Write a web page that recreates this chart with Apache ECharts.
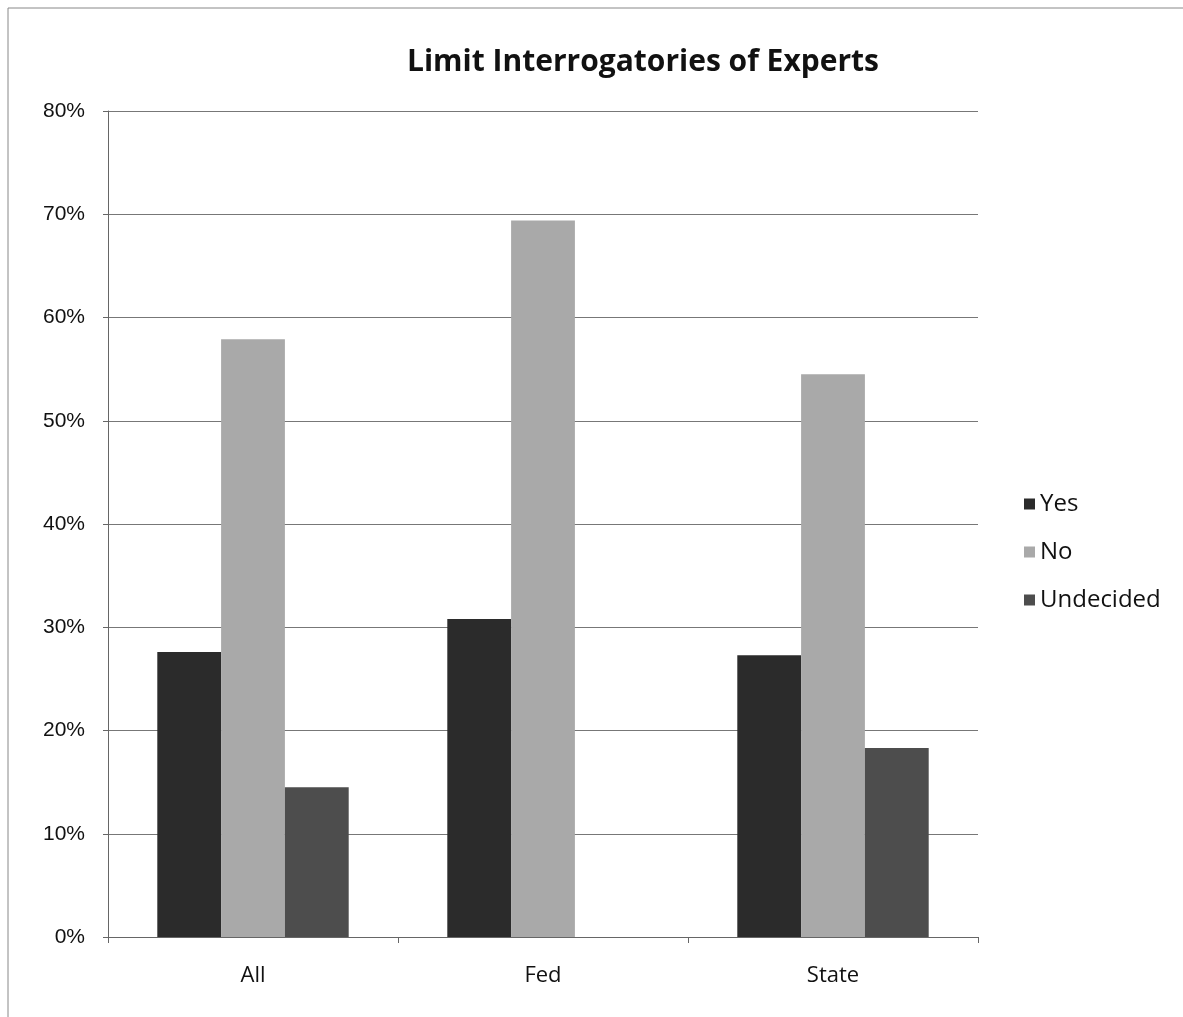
<!DOCTYPE html>
<html><head><meta charset="utf-8">
<script src="https://cdn.jsdelivr.net/npm/echarts@6/dist/echarts.min.js"></script>
<style>html,body{margin:0;padding:0;background:#fff}#c{width:1183px;height:1017px}</style>
</head><body><div id="c"></div>
<script>
const categories = ['All', 'Fed', 'State'];
const seriesNames = ['Yes', 'No', 'Undecided'];
const yesValues = [27.6, 30.8, 27.3];
const noValues = [57.9, 69.4, 54.5];
const undecidedValues = [14.5, 0, 18.3];
const colors = ['#2b2b2b', '#a9a9a9', '#4d4d4d'];
const sans = "'Open Sans',sans-serif";

const chart = echarts.init(document.getElementById('c'));
const data = [yesValues, noValues, undecidedValues];
chart.setOption({
  animation: false,
  backgroundColor: '#fff',
  title: {
    text: 'Limit Interrogatories of Experts',
    left: 638, top: 42, textAlign: 'center',
    textStyle: {fontFamily: sans, fontSize: 30, fontWeight: 'bold', color: '#111'}
  },
  graphic: [{
    type: 'rect', shape: {x: 8, y: 8, width: 1200, height: 1100},
    style: {fill: 'none', stroke: '#888', lineWidth: 1}
  }],
  legend: {
    orient: 'vertical', left: 1019, top: 487, itemGap: 24,
    itemWidth: 11, itemHeight: 11, icon: 'rect',
    textStyle: {fontFamily: sans, fontSize: 24, color: '#111', padding: [0,0,0,0]},
    data: seriesNames
  },
  grid: {left: 108, right: 205, top: 111, bottom: 80, containLabel: false},
  xAxis: {
    type: 'category', data: categories,
    axisLine: {lineStyle: {color: '#666'}},
    axisTick: {show: true, length: 6, lineStyle: {color: '#666'}},
    axisLabel: {fontFamily: sans, fontSize: 22, color: '#111', margin: 28}
  },
  yAxis: {
    type: 'value', min: 0, max: 80, interval: 10,
    axisLine: {show: true, lineStyle: {color: '#666'}},
    axisTick: {show: true, length: 5, lineStyle: {color: '#666'}},
    splitLine: {lineStyle: {color: '#777', width: 1}},
    axisLabel: {formatter: '{value}%', fontFamily: "'Liberation Sans',Arial,sans-serif", fontSize: 21, color: '#111', margin: 23}
  },
  series: seriesNames.map((n, i) => ({
    name: n, type: 'bar', data: data[i],
    barGap: '0%', barCategoryGap: '34%',
    itemStyle: {color: colors[i]}
  }))
});
</script></body></html>
